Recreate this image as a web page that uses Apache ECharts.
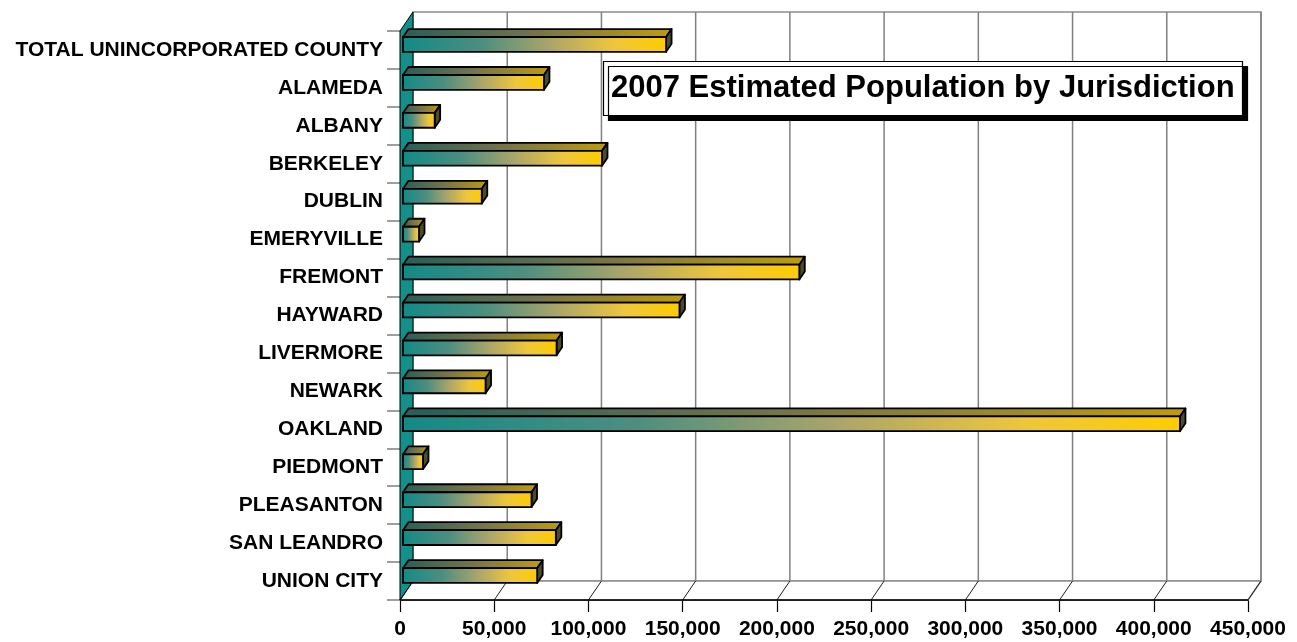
<!DOCTYPE html>
<html>
<head>
<meta charset="utf-8">
<script src="https://cdn.jsdelivr.net/npm/echarts@6/dist/echarts.min.js"></script>
<style>
html,body{margin:0;padding:0;background:#fff;}
#chart{width:1297px;height:642px;}
</style>
</head>
<body>
<div id="chart"></div>
<script>
const categories = ['TOTAL UNINCORPORATED COUNTY','ALAMEDA','ALBANY','BERKELEY','DUBLIN','EMERYVILLE','FREMONT','HAYWARD','LIVERMORE','NEWARK','OAKLAND','PIEDMONT','PLEASANTON','SAN LEANDRO','UNION CITY'];
const population = [139600, 74800, 16800, 105600, 41800, 8500, 210300, 146700, 81500, 43800, 412300, 10600, 68200, 81100, 71200];
const xTickValues = [0, 50000, 100000, 150000, 200000, 250000, 300000, 350000, 400000, 450000];
const xTickLabels = ['0','50,000','100,000','150,000','200,000','250,000','300,000','350,000','400,000','450,000'];
const titleText = '2007 Estimated Population by Jurisdiction';

const FONT = '"Liberation Sans", Arial, sans-serif';
const chart = echarts.init(document.getElementById('chart'));

function frameRender(params, api) {
  const band = api.size([0, 1])[1];
  const n = categories.length;
  const left = api.coord([xTickValues[0], 0])[0];
  const right = api.coord([xTickValues[xTickValues.length - 1], 0])[0];
  const top = api.coord([0, 0])[1] - band / 2;
  const bottom = api.coord([0, n - 1])[1] + band / 2;
  const dx = 13, dy = -19;
  const children = [];
  children.push({type:'rect', shape:{x:left+dx, y:top+dy, width:right-left, height:bottom-top}, style:{fill:'#ffffff', stroke:'#8c8c8c', lineWidth:1.5}});
  xTickValues.forEach(function(v, i){
    if (i === 0) return;
    const x = api.coord([v, 0])[0];
    children.push({type:'line', shape:{x1:x+dx, y1:top+dy, x2:x+dx, y2:bottom+dy}, style:{stroke:'#808080', lineWidth:1.5}});
  });
  children.push({type:'polygon', shape:{points:[[left,bottom],[left+dx,bottom+dy],[right+dx,bottom+dy],[right,bottom]]}, style:{fill:'#ffffff', stroke:'#8c8c8c', lineWidth:1.5}});
  xTickValues.forEach(function(v){
    const x = api.coord([v, 0])[0];
    children.push({type:'line', shape:{x1:x, y1:bottom, x2:x+dx, y2:bottom+dy}, style:{stroke:'#202020', lineWidth:1}});
  });
  children.push({type:'line', shape:{x1:left, y1:bottom, x2:right, y2:bottom}, style:{stroke:'#000', lineWidth:1.5}});
  children.push({type:'polygon', shape:{points:[[left,top],[left+dx,top+dy],[left+dx,bottom+dy],[left,bottom]]}, style:{fill:'#14908b', stroke:'#000', lineWidth:1}});
  return {type:'group', children: children};
}

function barRender(params, api) {
  const cat = api.value(1);
  const val = api.value(0);
  const band = api.size([0, 1])[1];
  const p0 = api.coord([0, cat]);
  const p1 = api.coord([val, cat]);
  const h = band * 0.39;
  const ox = 3, oy = -5.5;
  const ddx = 5.5, ddy = -8;
  const x0 = p0[0] + ox, x1 = p1[0] + ox;
  const yc = p0[1] + oy;
  const y0 = yc - h / 2, y1 = yc + h / 2;
  const frontGrad = new echarts.graphic.LinearGradient(0, 0, 1, 0, [
    {offset:0, color:'#128a86'},
    {offset:0.3, color:'#4d8e80'},
    {offset:0.55, color:'#a8a46a'},
    {offset:0.8, color:'#eec63c'},
    {offset:1, color:'#ffcc00'}
  ]);
  const topGrad = new echarts.graphic.LinearGradient(0, 0, 1, 0, [
    {offset:0, color:'#285e5a'},
    {offset:0.5, color:'#77744a'},
    {offset:1, color:'#bf9c0c'}
  ]);
  return {type:'group', children:[
    {type:'polygon', shape:{points:[[x0,y0],[x0+ddx,y0+ddy],[x1+ddx,y0+ddy],[x1,y0]]}, style:{fill:topGrad, stroke:'#000', lineWidth:1.8, lineJoin:'round'}},
    {type:'polygon', shape:{points:[[x1,y0],[x1+ddx,y0+ddy],[x1+ddx,y1+ddy],[x1,y1]]}, style:{fill:'#4a4c2c', stroke:'#000', lineWidth:1.8, lineJoin:'round'}},
    {type:'rect', shape:{x:x0, y:y0, width:x1-x0, height:y1-y0}, style:{fill:frontGrad, stroke:'#000', lineWidth:1.8}}
  ]};
}

const option = {
  animation: false,
  backgroundColor: '#ffffff',
  title: {
    text: titleText,
    left: 603, top: 61,
    padding: [10, 8],
    backgroundColor: '#ffffff',
    borderColor: '#000', borderWidth: 1.2,
    shadowColor: '#000', shadowBlur: 0, shadowOffsetX: 5, shadowOffsetY: 5,
    textStyle: {fontFamily: FONT, fontWeight: 'bold', fontSize: 31, color: '#000', lineHeight: 35}
  },
  grid: {left: 400, top: 31, width: 848, height: 569, containLabel: false},
  xAxis: {
    type: 'value', min: 0, max: 450000, interval: 50000,
    axisLine: {show: true, lineStyle: {color: '#000', width: 1.5}},
    axisTick: {show: true, length: 12, lineStyle: {color: '#000', width: 1.2}},
    splitLine: {show: false},
    axisLabel: {margin: 19, fontFamily: FONT, fontWeight: 'bold', fontSize: 21, color: '#000',
      formatter: function(v){ const i = xTickValues.indexOf(v); return i >= 0 ? xTickLabels[i] : ''; }}
  },
  yAxis: {
    type: 'category', data: categories, inverse: true,
    axisLine: {show: true, lineStyle: {color: '#000', width: 1}},
    axisTick: {show: true, length: 13, lineStyle: {color: '#808080', width: 1.5}},
    axisLabel: {margin: 17, fontFamily: FONT, fontWeight: 'bold', fontSize: 21, color: '#000'}
  },
  series: [
    {type: 'custom', name: 'frame', z: 1, silent: true, renderItem: frameRender, data: [[0, 0]], encode: {x: 0, y: 1}, clip: false},
    {type: 'custom', name: 'Population', z: 3, renderItem: barRender,
      data: population.map(function(v, i){ return [v, i]; }), encode: {x: 0, y: 1}, clip: false}
  ]
};
chart.setOption(option);
</script>
</body>
</html>
